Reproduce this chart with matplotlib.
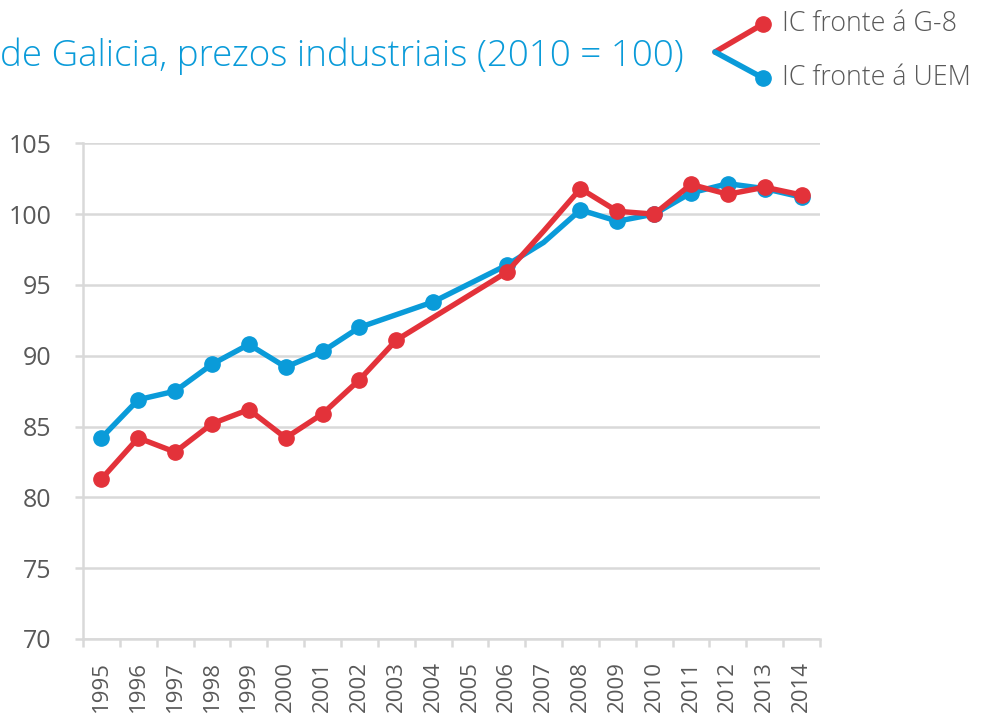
import matplotlib
matplotlib.use("Agg")
import matplotlib.pyplot as plt
from matplotlib.lines import Line2D

years = [str(y) for y in range(1995, 2015)]
ic_g8 = [81.3, 84.2, 83.2, 85.2, 86.2, 84.2, 85.9, 88.3, 91.1, 92.7,
         94.3, 95.9, 98.8, 101.8, 100.2, 100.0, 102.1, 101.4, 101.9, 101.35]
ic_uem = [84.2, 86.9, 87.5, 89.4, 90.8, 89.2, 90.3, 92.0, 92.9, 93.8,
          95.1, 96.4, 98.0, 100.3, 99.5, 100.0, 101.5, 102.15, 101.8, 101.2]
g8_no_marker = ["2004", "2005", "2007"]
uem_no_marker = ["2003", "2005", "2007"]
yticks = [70, 75, 80, 85, 90, 95, 100, 105]
title = "de Galicia, prezos industriais (2010 = 100)"
labels = ["IC fronte á G-8", "IC fronte á UEM"]

RED = "#e3323a"
BLUE = "#0a9bd9"
GRAY = "#595959"
GRID = "#d9d9d9"

fig = plt.figure(figsize=(9.81, 7.15), dpi=100)
ax = fig.add_axes([83/981, 1-639/715, (820-83)/981, (639-143.3)/715])

x = list(range(len(years)))
g8_mk = [i for i, y in enumerate(years) if y not in g8_no_marker]
uem_mk = [i for i, y in enumerate(years) if y not in uem_no_marker]

ax.plot(x, ic_uem, color=BLUE, lw=3.9, marker="o", ms=11, markevery=uem_mk,
        solid_joinstyle="round", zorder=3)
ax.plot(x, ic_g8, color=RED, lw=3.9, marker="o", ms=11, markevery=g8_mk,
        solid_joinstyle="round", zorder=4)

ax.set_xlim(-0.5, len(years) - 0.5)
ax.set_ylim(70, 105)
ax.set_yticks(yticks)
ax.set_xticks(x)
ax.set_xticklabels(years, rotation=90, fontsize=16, color=GRAY, family="Open Sans")
ax.set_xticks([i - 0.5 for i in range(len(years) + 1)], minor=True)
for lab in ax.get_yticklabels():
    lab.set_fontsize(18)
    lab.set_color(GRAY)
    lab.set_family("Open Sans")

ax.tick_params(axis="x", which="major", length=0, pad=16)
ax.tick_params(axis="x", which="minor", length=5.8, width=1.8, color=GRID)
ax.tick_params(axis="y", length=5.8, width=1.8, color=GRID, pad=17)

ax.grid(axis="y", color=GRID, lw=1.8, zorder=0)
ax.set_axisbelow(True)
for s in ["top", "right"]:
    ax.spines[s].set_visible(False)
ax.spines["left"].set_color(GRID)
ax.spines["left"].set_linewidth(1.8)
ax.spines["bottom"].set_color(GRID)
ax.spines["bottom"].set_linewidth(1.8)

fig.text(0.0, 1 - 56/715, title, fontsize=26.5, color=BLUE, family="Open Sans",
         fontweight="light", va="center", ha="left")

# custom legend
W, H = 981, 715
def fx(px): return px / W
def fy(py): return 1 - py / H
fig.add_artist(Line2D([fx(715), fx(763)], [fy(52), fy(24)], color=RED, lw=4,
                      solid_capstyle="round"))
fig.add_artist(Line2D([fx(715), fx(763)], [fy(52), fy(78)], color=BLUE, lw=4,
                      solid_capstyle="round"))
fig.add_artist(Line2D([fx(763)], [fy(24)], color=RED, marker="o", ms=11, lw=0))
fig.add_artist(Line2D([fx(763)], [fy(78)], color=BLUE, marker="o", ms=11, lw=0))
fig.text(fx(782), fy(24), labels[0], fontsize=19.3, color=GRAY, family="Open Sans",
         fontweight="light", va="center", ha="left")
fig.text(fx(782), fy(78), labels[1], fontsize=19.3, color=GRAY, family="Open Sans",
         fontweight="light", va="center", ha="left")

fig.savefig("out.png", dpi=100, facecolor="white")
